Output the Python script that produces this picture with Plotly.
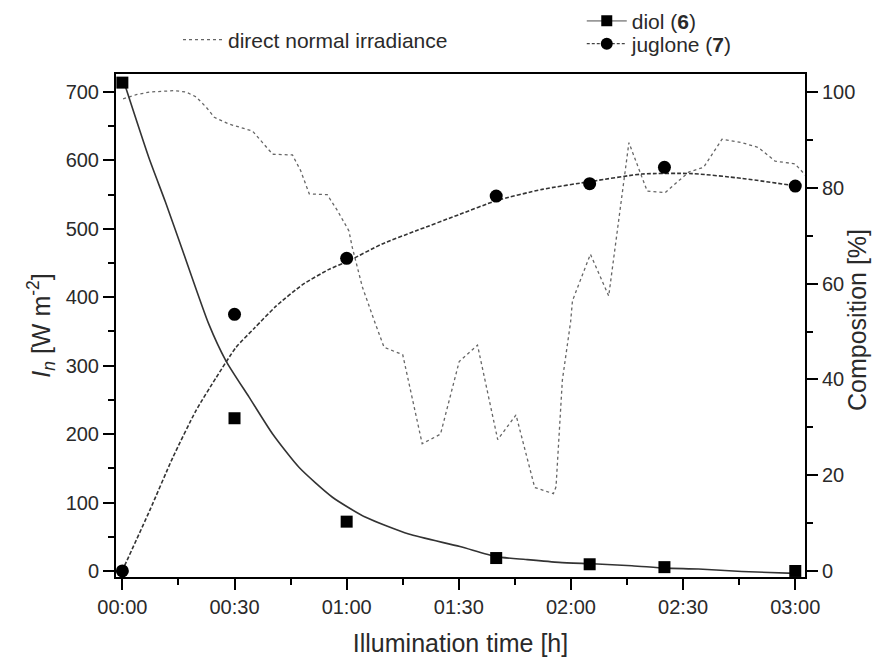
import plotly.graph_objects as go

# ---------------- data ----------------
tick_minutes = [0, 30, 60, 90, 120, 150, 180]
tick_labels = ["00:00", "00:30", "01:00", "01:30", "02:00", "02:30", "03:00"]

# direct normal irradiance (W m^-2) vs time (min)
irr_t = [0.2, 3.7, 7.3, 13.9, 17, 19.7, 22.4, 24.6, 28.6, 34.8, 37.5, 40.2, 45.5,
         47.7, 50, 54.8, 57.5, 60.6, 61.5, 62.4, 64.2, 67.7, 70, 75, 77.1, 80.2,
         85.1, 90.1, 95, 100.4, 105.3, 110.3, 115.3, 116, 117.7, 119.9, 120.4,
         125.2, 130.1, 135.5, 140.4, 145.2, 151.5, 155.5, 160.4, 165.7, 170.1,
         174.6, 179.9, 182.8]
irr_val = [690, 696, 700, 702, 700, 693, 678, 663, 653, 643, 626, 609, 608,
           585, 551, 550, 527, 497, 473, 453, 415, 361, 327, 316, 264, 186,
           200, 306, 330, 192, 228, 122, 113, 123, 279, 364, 395,
           463, 402, 626, 555, 553, 583, 590, 631, 626, 619,
           599, 595, 578]

# measured composition (%)
diol_t = [0, 30, 60, 100, 125, 145, 180]
diol_pct = [102, 31.9, 10.3, 2.7, 1.4, 0.8, 0.0]
jug_t = [0, 30, 60, 100, 125, 145, 180]
jug_pct = [0.0, 53.6, 65.3, 78.3, 80.9, 84.3, 80.4]

# fitted curves (%)
diol_fit_t = [0.6, 7.1, 11.5, 16.0, 23.1, 27.7, 33.9, 40.2, 47.3, 56.2,
              65.1, 76.6, 90.3, 99.9, 107.9, 116.8, 125.7, 136.3, 145.2, 154.1,
              165.7, 179.9]
diol_fit_pct = [101.7, 86.3, 77.1, 67.2, 51.6, 43.9, 36.3, 28.6, 21.6, 15.4,
                11.2, 7.7, 5.1, 3.0, 2.4, 1.8, 1.5, 1.1, 0.6, 0.4,
                -0.1, -0.5]
jug_fit_t = [0.6, 7.3, 13.5, 19.7, 25.1, 30.4, 35.3, 41.1, 48.2, 55.3, 60.6,
             69.5, 78.4, 90.3, 99.9, 112.3, 125.7, 139, 152.4, 165.7, 180.3]
jug_fit_pct = [1.1, 12.6, 23.7, 33.5, 40.4, 46.7, 50.7, 55.3, 59.8, 63.0, 64.8,
               68.3, 71.0, 74.5, 77.3, 79.7, 81.4, 82.9, 83.0, 82.0, 80.4]

FONT = "Liberation Sans, Arial, sans-serif"
TXT = "#2a2a2a"

fig = go.Figure()

fig.add_trace(go.Scatter(
    x=irr_t, y=irr_val, mode="lines", name="direct normal irradiance",
    line=dict(color="#666666", width=1.3, dash="dot"), legend="legend"))

fig.add_trace(go.Scatter(
    x=diol_fit_t, y=diol_fit_pct, yaxis="y2", mode="lines", showlegend=False,
    line=dict(color="#333333", width=1.6, shape="spline", smoothing=0.6)))
fig.add_trace(go.Scatter(
    x=jug_fit_t, y=jug_fit_pct, yaxis="y2", mode="lines", showlegend=False,
    line=dict(color="#333333", width=1.6, dash="4px,2px", shape="spline", smoothing=0.6)))

fig.add_trace(go.Scatter(
    x=diol_t, y=diol_pct, yaxis="y2", mode="markers", showlegend=False,
    cliponaxis=False, marker=dict(symbol="square", size=12, color="black")))
fig.add_trace(go.Scatter(
    x=jug_t, y=jug_pct, yaxis="y2", mode="markers", showlegend=False,
    cliponaxis=False, marker=dict(symbol="circle", size=13, color="black")))

# legend-only entries
fig.add_trace(go.Scatter(
    x=[None], y=[None], yaxis="y2", mode="lines+markers", name="diol (<b>6</b>)",
    line=dict(color="#999999", width=1.6),
    marker=dict(symbol="square", size=11, color="black"), legend="legend2"))
fig.add_trace(go.Scatter(
    x=[None], y=[None], yaxis="y2", mode="lines+markers", name="juglone (<b>7</b>)",
    line=dict(color="#444444", width=1.4, dash="3px,2px"),
    marker=dict(symbol="circle", size=12, color="black"), legend="legend3"))

axis_common = dict(showline=True, linecolor="black", linewidth=2,
                   ticks="outside", ticklen=11, tickwidth=2, tickcolor="black",
                   showgrid=False, zeroline=False,
                   tickfont=dict(family=FONT, size=20, color=TXT))

legend_common = dict(xanchor="left", yanchor="middle", bgcolor="rgba(0,0,0,0)",
                     font=dict(family=FONT, size=21, color=TXT), itemwidth=40,
                     borderwidth=0)

# page has an 8px body margin, so the figure is 888x649 inside the 896x657 window
fig.update_layout(
    width=888, height=649,
    margin=dict(l=108, r=91, t=66, b=80, autoexpand=False),
    plot_bgcolor="white", paper_bgcolor="white",
    font=dict(family=FONT, color=TXT),
    xaxis=dict(range=[-1.7, 182.6], tickmode="array", tickvals=tick_minutes,
               ticktext=tick_labels, mirror=True,
               minor=dict(ticks="outside", ticklen=6, tickwidth=2, tick0=0, dtick=15,
                          tickcolor="black"),
               title=dict(text="Illumination time [h]",
                          font=dict(family=FONT, size=25, color=TXT), standoff=17),
               **axis_common),
    yaxis=dict(range=[-8.8, 726.3], tickmode="linear", tick0=0, dtick=100,
               minor=dict(ticks="outside", ticklen=6, tickwidth=2, tick0=0, dtick=50,
                          tickcolor="black"),
               title=dict(text="<i>I</i><sub><i>n</i></sub> [W m<sup>-2</sup>]",
                          font=dict(family=FONT, size=25, color=TXT), standoff=8),
               **axis_common),
    yaxis2=dict(range=[-1.26, 103.8], overlaying="y", side="right",
                tickmode="linear", tick0=0, dtick=20,
                minor=dict(ticks="outside", ticklen=6, tickwidth=2, tick0=0, dtick=10,
                           tickcolor="black"),
                **axis_common),
    annotations=[dict(text="Composition [%]", textangle=-90, showarrow=False,
                      xref="paper", yref="paper", x=1.0755, y=0.511,
                      xanchor="center", yanchor="middle",
                      font=dict(family=FONT, size=25, color=TXT))],
    legend=dict(x=0.09, y=1.0676, **legend_common),
    legend2=dict(x=0.676, y=1.105, **legend_common),
    legend3=dict(x=0.676, y=1.0596, **legend_common),
)

fig.write_html("out.html")
